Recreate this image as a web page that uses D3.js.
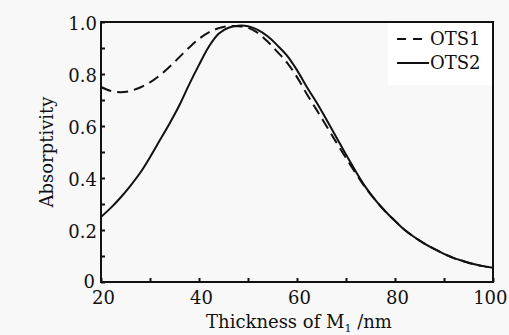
<!DOCTYPE html>
<html>
<head>
<meta charset="utf-8">
<script src="https://cdn.jsdelivr.net/npm/d3@7/dist/d3.min.js"></script>
<style>
  html, body { margin: 0; padding: 0; background: #f8f8f8; }
  svg { display: block; }
  text { font-family: "DejaVu Serif", serif; fill: #111; }
</style>
</head>
<body>
<div class="chart"></div>
<script>
// thickness of M1 (nm)
const thickness = [20, 22, 24, 26, 28, 30, 32, 34, 36, 38, 40, 42, 44, 46, 48, 50, 52, 54, 56, 58, 60,
                   62, 64, 66, 68, 70, 72, 74, 76, 78, 80, 82, 84, 86, 88, 90, 92, 94, 96, 98, 100];

const ots1 = [0.75, 0.735, 0.73, 0.735, 0.748, 0.768, 0.795, 0.828, 0.865, 0.902, 0.935, 0.96, 0.976, 0.984, 0.984, 0.978,
              0.958, 0.925, 0.885, 0.843, 0.788, 0.723, 0.662, 0.6, 0.538, 0.477, 0.418, 0.362, 0.315, 0.272,
              0.235, 0.2, 0.172, 0.148, 0.127, 0.108, 0.092, 0.08, 0.069, 0.061, 0.055];

const ots2 = [0.25, 0.285, 0.325, 0.37, 0.42, 0.48, 0.545, 0.61, 0.68, 0.76, 0.835, 0.905, 0.955, 0.978, 0.986, 0.984,
              0.97, 0.945, 0.91, 0.87, 0.815, 0.75, 0.69, 0.625, 0.558, 0.49, 0.425, 0.365, 0.315, 0.272,
              0.235, 0.2, 0.172, 0.148, 0.127, 0.108, 0.092, 0.08, 0.069, 0.061, 0.055];

const xTicks = [20, 30, 40, 50, 60, 70, 80, 90, 100];
const xTickLabels = ['20', '', '40', '', '60', '', '80', '', '100'];
const yTicks = [0, 0.1, 0.2, 0.3, 0.4, 0.5, 0.6, 0.7, 0.8, 0.9, 1.0];
const yTickLabels = ['0', '', '0.2', '', '0.4', '', '0.6', '', '0.8', '', '1.0'];

const seriesNames = ['OTS1', 'OTS2'];

const width = 509, height = 335;
const margin = {top: 22, right: 16, bottom: 53, left: 101};
const w = width - margin.left - margin.right;
const h = height - margin.top - margin.bottom;

const svg = d3.select('.chart')
  .append('svg')
  .attr('width', width)
  .attr('height', height);

const g = svg.append('g').attr('transform', `translate(${margin.left},${margin.top})`);

const x = d3.scaleLinear().domain([20, 100]).range([0, w]);
const y = d3.scaleLinear().domain([0, 1]).range([h, 0]);

// x axis, ticks inward
const xAxis = g.append('g')
  .attr('transform', `translate(0,${h})`)
  .call(d3.axisBottom(x).tickValues(xTicks).tickSizeInner(-4).tickSizeOuter(0)
    .tickFormat((d, i) => xTickLabels[i]));
xAxis.select('.domain').remove();
xAxis.selectAll('line').attr('stroke', '#111').attr('stroke-width', 2);
xAxis.selectAll('text')
  .attr('y', 22).attr('dy', null).attr('x', 2)
  .style('font-size', '18px').style('font-family', '"DejaVu Serif", serif');
// last label sits against the right edge
xAxis.selectAll('.tick').filter(d => d === 100).select('text')
  .attr('text-anchor', 'end').attr('x', 14);

const yAxis = g.append('g')
  .call(d3.axisLeft(y).tickValues(yTicks).tickSizeInner(-4).tickSizeOuter(0)
    .tickFormat((d, i) => yTickLabels[i]));
yAxis.select('.domain').remove();
yAxis.selectAll('line').attr('stroke', '#111').attr('stroke-width', 2);
yAxis.selectAll('text')
  .attr('x', -4).attr('dy', '0.42em')
  .style('font-size', '18px').style('font-family', '"DejaVu Serif", serif');
yAxis.selectAll('.tick').filter(d => d === 0).select('text').attr('x', -6).attr('dy', '0.3em');

// legend box
g.append('rect')
  .attr('x', x(20) + 287).attr('y', 1)
  .attr('width', 104).attr('height', 62)
  .attr('fill', '#fff');

const line = d3.line()
  .x((d, i) => x(thickness[i]))
  .y(d => y(d))
  .curve(d3.curveCatmullRom);

g.append('path')
  .datum(ots2)
  .attr('d', line)
  .attr('fill', 'none')
  .attr('stroke', '#111')
  .attr('stroke-width', 2);

g.append('path')
  .datum(ots1)
  .attr('d', line)
  .attr('fill', 'none')
  .attr('stroke', '#111')
  .attr('stroke-width', 2)
  .attr('stroke-dasharray', '11,6');

// frame
g.append('rect')
  .attr('width', w).attr('height', h)
  .attr('fill', 'none')
  .attr('stroke', '#111')
  .attr('stroke-width', 2);

// legend
const legend = g.append('g').attr('transform', `translate(${w - 96},0)`);
seriesNames.forEach((name, i) => {
  const ly = 17 + i * 24;
  legend.append('line')
    .attr('x1', 0).attr('x2', 32)
    .attr('y1', ly).attr('y2', ly)
    .attr('stroke', '#111')
    .attr('stroke-width', 2)
    .attr('stroke-dasharray', i === 0 ? '9,7' : null);
  legend.append('text')
    .attr('x', 33).attr('y', ly + 6)
    .style('font-size', '18px')
    .text(name);
});

// axis titles
const xt = svg.append('text')
  .attr('x', margin.left + w / 2 + 2)
  .attr('y', 328)
  .attr('text-anchor', 'middle')
  .style('font-size', '18px');
xt.append('tspan').text('Thickness of M');
xt.append('tspan').attr('dy', 4).style('font-size', '11px').text('1');
xt.append('tspan').attr('dy', -4).text(' /nm');

svg.append('text')
  .attr('transform', `translate(53,${margin.top + h / 2}) rotate(-90)`)
  .attr('text-anchor', 'middle')
  .style('font-size', '18px')
  .text('Absorptivity');
</script>
</body>
</html>
